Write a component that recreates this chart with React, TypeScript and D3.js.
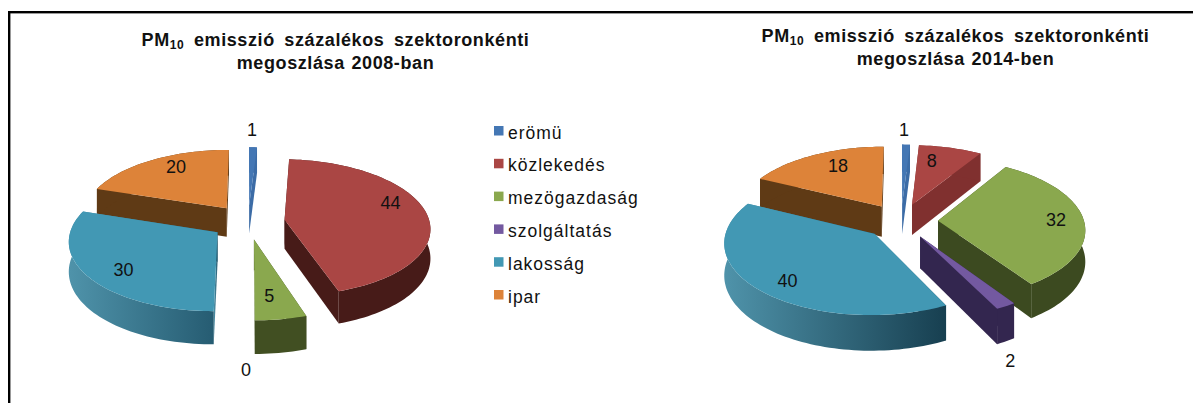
import React from "react";
import * as d3 from "d3";

const categories = ["erömü", "közlekedés", "mezögazdaság", "szolgáltatás", "lakosság", "ipar"];
const values2008 = [1, 44, 5, 0, 30, 20];
const values2014 = [1, 8, 32, 2, 40, 18];
const topColors = ["#4477b4", "#aa4644", "#8aa84e", "#7359a0", "#4298b4", "#dd8339"];
const wallLeft = ["#3c6ca6", "#471b18", "#414f22", "#33264f", "url(#tealWall)", "#5f3a15"];
const wallRight = ["#3c6ca6", "#80302f", "#3c4a20", "#33264f", "url(#tealWall2)", "#5f3a15"];

const W = 1193, H = 403;
const font = "'Liberation Sans', Arial, sans-serif";

type PieCfg = {
  values: number[]; cx: number; cy: number; R: number; k: number; p: number; h: number; e: number;
  walls: string[];
  labelFrac: number[]; labelNudge: [number, number][];
};

const pies: PieCfg[] = [
  {
    values: values2008, cx: 248, cy: 222, R: 145, k: 0.467, p: 0.11, h: 29, e: 37, walls: wallLeft,
    labelFrac: [1.3, 0.72, 0.7, 1.3, 0.7, 0.7],
    labelNudge: [[-2, -2], [4, -11], [-3, 3], [-2, 21], [-5, 7], [3, -7]],
  },
  {
    values: values2014, cx: 901, cy: 221, R: 146, k: 0.475, p: 0.11, h: 31, e: 37, walls: wallRight,
    labelFrac: [1.3, 0.7, 0.7, 1.3, 0.7, 0.7],
    labelNudge: [[-3, 1], [-8, -3], [16, 0], [-25, 31], [-8, 9], [5, -4]],
  },
];

function Pie3D({ cfg }: { cfg: PieCfg }) {
  const { cx, cy, R, k, p, h, e } = cfg;
  const arcs = d3.pie<number>().sort(null)(cfg.values);
  const project = (X: number, Y: number, Z = 0): [number, number] => {
    const w = 1 / (1 - (p * Y) / R);
    return [cx + X * w, cy + (Y * k + Z) * w];
  };
  const line = d3.line<[number, number]>();
  const items = arcs.map((a, i) => {
    const mid = (a.startAngle + a.endAngle) / 2;
    const ox = e * Math.sin(mid), oy = -e * Math.cos(mid);
    const pt = (ang: number, r: number, z = 0) =>
      project(ox + r * Math.sin(ang), oy - r * Math.cos(ang), z);
    const n = Math.max(2, Math.ceil((a.endAngle - a.startAngle) / 0.03));
    const angs = d3.range(n + 1).map((j) => a.startAngle + ((a.endAngle - a.startAngle) * j) / n);
    const rim = angs.map((t) => pt(t, R));
    const rimLow = angs.map((t) => pt(t, R, h));
    const top = [pt(0, 0), ...rim];
    const wallA = [pt(0, 0), pt(a.startAngle, R), pt(a.startAngle, R, h), pt(0, 0, h)];
    const wallB = [pt(0, 0), pt(a.endAngle, R), pt(a.endAngle, R, h), pt(0, 0, h)];
    const outer = [...rim, ...rimLow.slice().reverse()];
    const f = cfg.labelFrac[i];
    const lp = pt(mid, R * f);
    const nudge = cfg.labelNudge[i];
    return { i, oy, value: a.value, top, wallA, wallB, outer, lp: [lp[0] + nudge[0], lp[1] + nudge[1]] };
  });
  const order = items.slice().sort((a, b) => a.oy - b.oy);
  return (
    <g>
      {order.map((s) =>
        cfg.values[s.i] === 0 ? null : (
          <g key={s.i}>
            <path d={line(s.wallA as any) + "Z"} fill={cfg.walls[s.i]} />
            <path d={line(s.wallB as any) + "Z"} fill={cfg.walls[s.i]} />
            <path d={line(s.outer as any) + "Z"} fill={cfg.walls[s.i]} />
            <path d={line(s.top as any) + "Z"} fill={topColors[s.i]} />
          </g>
        )
      )}
      {items.map((s) => (
        <text key={s.i} x={s.lp[0]} y={s.lp[1]} textAnchor="middle" dominantBaseline="central"
          fontSize={18} fontFamily={font} fill="#111">{cfg.values[s.i]}</text>
      ))}
    </g>
  );
}

function Title({ x, y, year }: { x: number; y: number; year: string }) {
  return (
    <text fontFamily={font} fontWeight="bold" fontSize={18} letterSpacing={0.6} fill="#111" textAnchor="middle">
      <tspan x={x} y={y} wordSpacing={4}>PM<tspan fontSize={12} dy={3}>10</tspan><tspan dy={-3}> emisszió százalékos szektoronkénti</tspan></tspan>
      <tspan x={x} y={y + 22.5} wordSpacing={1}>megoszlása {year}</tspan>
    </text>
  );
}

export default function App() {
  const legendY = d3.scalePoint<string>().domain(categories).range([131, 295]);
  return (
    <svg width={W} height={H} style={{ position: "absolute", left: 0, top: 0, background: "#fff" }}>
      <defs>
        <linearGradient id="tealWall" x1="0" x2="1" y1="0" y2="0">
          <stop offset="0" stopColor="#4f93aa" />
          <stop offset="1" stopColor="#265c72" />
        </linearGradient>
        <linearGradient id="tealWall2" x1="0" x2="1" y1="0" y2="0">
          <stop offset="0" stopColor="#4f93aa" />
          <stop offset="1" stopColor="#173f50" />
        </linearGradient>
      </defs>
      <rect x={8} y={11} width={W - 8} height={2.4} fill="#000" />
      <rect x={8} y={11} width={2.4} height={H - 11} fill="#000" />
      <Title x={335.5} y={46} year="2008-ban" />
      <Title x={955.5} y={42} year="2014-ben" />
      {pies.map((c, i) => <Pie3D key={i} cfg={c} />)}
      {categories.map((c, i) => (
        <g key={c}>
          <rect x={494} y={legendY(c)! - 5} width={9.5} height={9.5} fill={topColors[i]} />
          <text x={508} y={legendY(c)! + 7.5} fontFamily={font} fontSize={17.5} letterSpacing={1} fill="#111">{c}</text>
        </g>
      ))}
    </svg>
  );
}
